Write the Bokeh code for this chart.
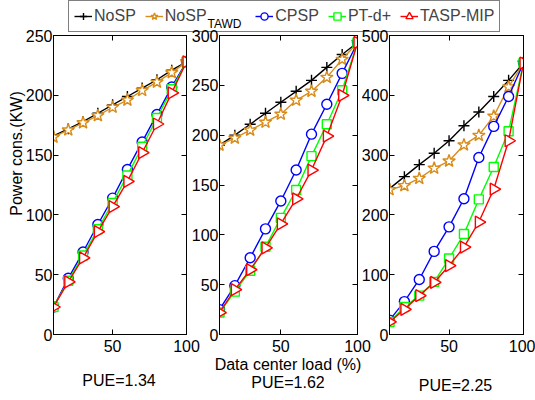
import math
from bokeh.plotting import figure
from bokeh.layouts import row
from bokeh.models import (Range1d, LinearAxis, FixedTicker, Legend, LegendItem, Label)
from bokeh.embed import file_html
from bokeh.resources import INLINE

# ---------------- data ----------------
loads = [10, 20, 30, 40, 50, 60, 70, 80, 90, 100]

# PUE = 1.34
nosp1 = [166, 172, 178, 185, 192, 199, 206, 213, 221, 228]
tawd1 = [165, 171, 177, 183, 190, 196, 204, 211, 219, 228]
cpsp1 = [23, 47, 69, 92, 114, 138, 161, 184, 207, 228]
ptd1 = [23, 45, 66, 88, 110, 133, 157, 181, 205, 228]
tasp1 = [23, 44, 64, 86, 107, 128, 152, 176, 202, 228]

# PUE = 1.62
nosp2 = [190, 200, 211, 222, 233, 244, 255, 268, 281, 293]
tawd2 = [190, 197, 205, 213, 221, 235, 244, 258, 276, 293]
cpsp2 = [25, 49, 77, 106, 134, 165, 201, 231, 262, 293]
ptd2 = [22, 43, 64, 88, 117, 145, 179, 211, 245, 293]
tasp2 = [22, 45, 65, 87, 111, 136, 165, 199, 240, 293]

# PUE = 2.25
nosp3 = [244, 264, 284, 303, 324, 349, 372, 398, 425, 454]
tawd3 = [242, 249, 261, 278, 290, 317, 333, 365, 414, 454]
cpsp3 = [24, 55, 92, 139, 180, 227, 296, 348, 398, 454]
ptd3 = [21, 46, 65, 88, 127, 168, 226, 280, 340, 454]
tasp3 = [21, 42, 65, 87, 115, 146, 188, 243, 324, 454]

series_names = ["NoSP", "NoSP", "CPSP", "PT-d+", "TASP-MIP"]
subscript = "TAWD"
pue_labels = ["PUE=1.34", "PUE=1.62", "PUE=2.25"]
x_title = "Data center load (%)"
y_title = "Power cons.(KW)"
x_ticks = [50, 100]

# ---------------- style ----------------
H = 399
FONT = "Liberation Sans"
FS = "16px"
ORANGE = "#D98C1A"
styles = [
    dict(color="black", marker="cross", size=11, fill="black", angle=0.0),
    dict(color=ORANGE, marker="star", size=13, fill="white", angle=0.0),
    dict(color="#0000FF", marker="circle", size=10, fill="white", angle=0.0),
    dict(color="#00FF00", marker="square", size=9, fill="white", angle=0.0),
    dict(color="#FF0000", marker="triangle", size=12, fill="white", angle=-math.pi / 2),
]


def no_align(p):
    if "frame_align" in p.properties():
        p.frame_align = False


def make_panel(data, ymax, ystep, width, bl, br, shift, base):
    p = figure(width=width, height=H, output_backend="svg", toolbar_location=None,
               x_range=Range1d(10, 100), y_range=Range1d(0, ymax),
               min_border_left=bl, min_border_right=br,
               min_border_top=35, min_border_bottom=H - 334)
    no_align(p)
    p.grid.visible = False
    p.outline_line_color = "black"
    p.outline_line_width = 1
    if base:
        p.background_fill_color = "white"
        p.border_fill_color = "white"
    else:
        p.background_fill_alpha = 0
        p.border_fill_alpha = 0
        p.margin = (0, 0, 0, shift)
    yt = list(range(0, ymax + 1, ystep))
    p.xaxis.ticker = FixedTicker(ticks=x_ticks)
    p.yaxis.ticker = FixedTicker(ticks=yt)
    p.add_layout(LinearAxis(ticker=FixedTicker(ticks=yt)), "right")
    p.add_layout(LinearAxis(ticker=FixedTicker(ticks=x_ticks)), "above")
    for ax in p.axis:
        ax.major_tick_in = 5
        ax.major_tick_out = 0
        ax.minor_tick_line_color = None
        ax.axis_line_color = "black"
        ax.major_tick_line_color = "black"
        ax.major_label_text_font = FONT
        ax.major_label_text_font_size = FS
        ax.major_label_text_color = "black"
    p.xaxis[0].major_label_standoff = 0
    p.yaxis[0].major_label_standoff = 1
    for ax in p.right + p.above:
        ax.major_label_text_font_size = "0px"
        ax.major_label_standoff = 0
    for vals, st in zip(data, styles):
        p.line(loads, vals, line_color=st["color"], line_width=1.4)
        p.scatter(loads, vals, marker=st["marker"], size=st["size"],
                  line_color=st["color"], fill_color=st["fill"],
                  line_width=1.4, angle=st["angle"])
    return p


# frames (window px): p1 53..186, p2 219..357, p3 389..523 ; y 35..334
p1 = make_panel([nosp1, tawd1, cpsp1, ptd1, tasp1], 250, 50, 535, 53, 349, 0, True)
p2 = make_panel([nosp2, tawd2, cpsp2, ptd2, tasp2], 300, 50, 191, 33, 20, -349, False)
p3 = make_panel([nosp3, tawd3, cpsp3, ptd3, tasp3], 500, 100, 178, 32, 12, -20, False)

# ---------------- transparent overlay canvas (legend and free texts) ----------------
ov = figure(width=535, height=H, output_backend="svg", toolbar_location=None,
            x_range=Range1d(0, 1), y_range=Range1d(0, 1),
            x_axis_location=None, y_axis_location=None, min_border=0)
no_align(ov)
ov.margin = (0, 0, 0, -535)
ov.grid.visible = False
ov.outline_line_color = None
ov.background_fill_alpha = 0
ov.border_fill_alpha = 0

# legend proxies: same series, but outside this canvas' own (0..1) ranges
legend_rends = []
for vals, st in zip([nosp1, tawd1, cpsp1, ptd1, tasp1], styles):
    ln = ov.line(loads, vals, line_color=st["color"], line_width=1.4)
    sc = ov.scatter(loads, vals, marker=st["marker"], size=st["size"],
                    line_color=st["color"], fill_color=st["fill"],
                    line_width=1.4, angle=st["angle"])
    legend_rends.append([ln, sc])

labels = list(series_names)
labels[1] = series_names[1] + " " * 9
items = [LegendItem(label=lab, renderers=rr) for lab, rr in zip(labels, legend_rends)]
legend = Legend(items=items, orientation="horizontal", location=(68, H - 32),
                glyph_width=18, glyph_height=20, label_height=20,
                label_standoff=2, spacing=9, padding=5, margin=0,
                border_line_color="black", border_line_width=1,
                label_text_font=FONT, label_text_font_size=FS,
                background_fill_alpha=0)
ov.add_layout(legend, "center")


def lab(text, x, y, size=FS, **kw):
    ov.add_layout(Label(x=x, y=y, x_units="screen", y_units="screen", text=text,
                        text_font=FONT, text_font_size=size, text_color="black",
                        text_baseline="middle", **kw))


lab(subscript, 207, H - 23, size="12px", text_align="left")
lab(y_title, 15.5, H - 153, angle=math.pi / 2, text_align="center")
lab(pue_labels[0], 118.5, H - 380, text_align="center")
lab(x_title, 287.5, H - 364, text_align="center")
lab(pue_labels[1], 287.5, H - 382, text_align="center")
lab(pue_labels[2], 455, H - 385, text_align="center")

layout = row(p1, p2, p3, ov, spacing=0)
open("out.html", "w").write(file_html(layout, INLINE))
